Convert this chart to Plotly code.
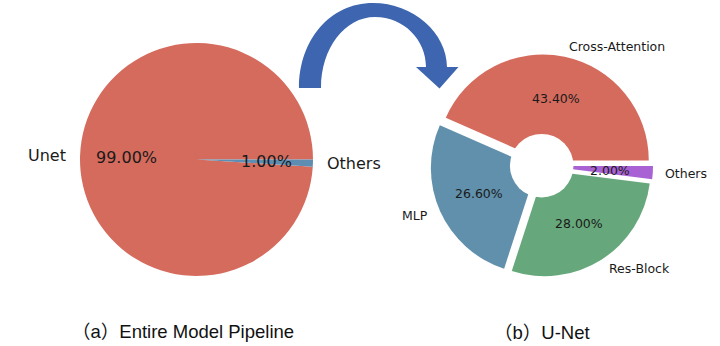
import math
import plotly.graph_objects as go

W, H = 720, 346

# ---------------- data ----------------
pipeline_labels = ["Unet", "Others"]
pipeline_values = [99.0, 1.0]
pipeline_colors = ["#D56B5D", "#5E8DB4"]

unet_labels = ["Cross-Attention", "MLP", "Res-Block", "Others"]
unet_values = [43.4, 26.6, 28.0, 2.0]
unet_colors = ["#D56B5D", "#6090AB", "#66A87B", "#A862D3"]

captions = ["（a）Entire Model Pipeline", "（b）U-Net"]

# ---------------- layout geometry (pixels) ----------------
LEFT = dict(cx=196.5, cy=159.5, R=116.5, pull=0.0, fs=16)
RIGHT = dict(cx=541.7, cy=165.7, R=106.0, pull=0.05, fs=12.5)
HOLE_FRAC = 0.3

LABEL_FONT = "DejaVu Sans, Verdana, sans-serif"
TEXT_COLOR = "#1a1a1a"


def px(x):
    return x / W


def py(y):
    return 1 - y / H


def domain(g):
    half = g["R"] * (1 + g["pull"])
    return dict(x=[px(g["cx"] - half), px(g["cx"] + half)],
                y=[py(g["cy"] + half), py(g["cy"] - half)])


def start_rotation(values):
    # first wedge starts at 3 o'clock and slices run counterclockwise
    return 90 - 360.0 * values[0] / sum(values)


def pie_annotations(labels, values, g):
    total = sum(values)
    anns = []
    cum = 0.0
    shift = g["pull"] * g["R"]
    for lab, v in zip(labels, values):
        theta = math.radians(360.0 * (cum + v / 2) / total)
        cum += v
        c, s = math.cos(theta), math.sin(theta)
        dl = shift + 1.1 * g["R"]
        dp = shift + 0.6 * g["R"]
        lx, ly = g["cx"] + dl * c, g["cy"] - dl * s
        tx, ty = g["cx"] + dp * c, g["cy"] - dp * s
        anns.append(dict(x=px(lx), y=py(ly), xref="paper", yref="paper",
                         text=lab, showarrow=False,
                         xanchor="left" if c > 0 else "right", yanchor="middle",
                         font=dict(family=LABEL_FONT, size=g["fs"], color=TEXT_COLOR)))
        anns.append(dict(x=px(tx), y=py(ty), xref="paper", yref="paper",
                         text=f"{v / total * 100:.2f}%", showarrow=False,
                         xanchor="center", yanchor="middle",
                         font=dict(family=LABEL_FONT, size=g["fs"], color=TEXT_COLOR)))
    return anns


fig = go.Figure()

fig.add_trace(go.Pie(
    labels=pipeline_labels, values=pipeline_values,
    marker=dict(colors=pipeline_colors, line=dict(width=0)),
    sort=False, direction="counterclockwise",
    rotation=start_rotation(pipeline_values),
    textinfo="none", hoverinfo="label+percent", showlegend=False,
    domain=domain(LEFT),
))

fig.add_trace(go.Pie(
    labels=unet_labels, values=unet_values,
    marker=dict(colors=unet_colors, line=dict(width=0)),
    sort=False, direction="counterclockwise",
    rotation=start_rotation(unet_values),
    pull=[RIGHT["pull"]] * len(unet_values),
    textinfo="none", hoverinfo="label+percent", showlegend=False,
    domain=domain(RIGHT),
))

annotations = pie_annotations(pipeline_labels, pipeline_values, LEFT)
annotations += pie_annotations(unet_labels, unet_values, RIGHT)

# captions
cap_pos = [(183, 331), (542, 332)]
for text, (x, y) in zip(captions, cap_pos):
    annotations.append(dict(x=px(x), y=py(y), xref="paper", yref="paper",
                            text=text, showarrow=False,
                            xanchor="center", yanchor="middle",
                            font=dict(family="Liberation Sans, Arial, Noto Sans CJK SC, sans-serif",
                                      size=18.5, color="#111111")))

# donut hole (white disc over the exploded wedges)
hr = HOLE_FRAC * RIGHT["R"]
shapes = [dict(type="circle", xref="paper", yref="paper",
               x0=px(RIGHT["cx"] - hr), x1=px(RIGHT["cx"] + hr),
               y0=py(RIGHT["cy"] + hr), y1=py(RIGHT["cy"] - hr),
               fillcolor="white", line=dict(width=0), layer="above")]


# curved arrow between the two pies
def P(x, y):
    return f"{px(x):.5f},{py(y):.5f}"


arrow = (
    f"M {P(299, 88)} "
    f"C {P(299, 40)} {P(330, 3)} {P(373, 3)} "
    f"C {P(413, 3)} {P(447, 33)} {P(447, 67)} "
    f"L {P(458.5, 67)} L {P(439.5, 88.5)} L {P(416, 67)} L {P(426, 67)} "
    f"C {P(426, 40)} {P(404, 17)} {P(375, 17)} "
    f"C {P(345, 17)} {P(321, 48)} {P(321, 88)} Z"
)
shapes.append(dict(type="path", xref="paper", yref="paper", path=arrow,
                   fillcolor="#3E65B0", line=dict(width=0), layer="above"))

fig.update_layout(
    width=W, height=H,
    margin=dict(l=0, r=0, t=0, b=0),
    paper_bgcolor="white", plot_bgcolor="white",
    annotations=annotations, shapes=shapes,
    showlegend=False,
)

fig.write_html("out.html")
